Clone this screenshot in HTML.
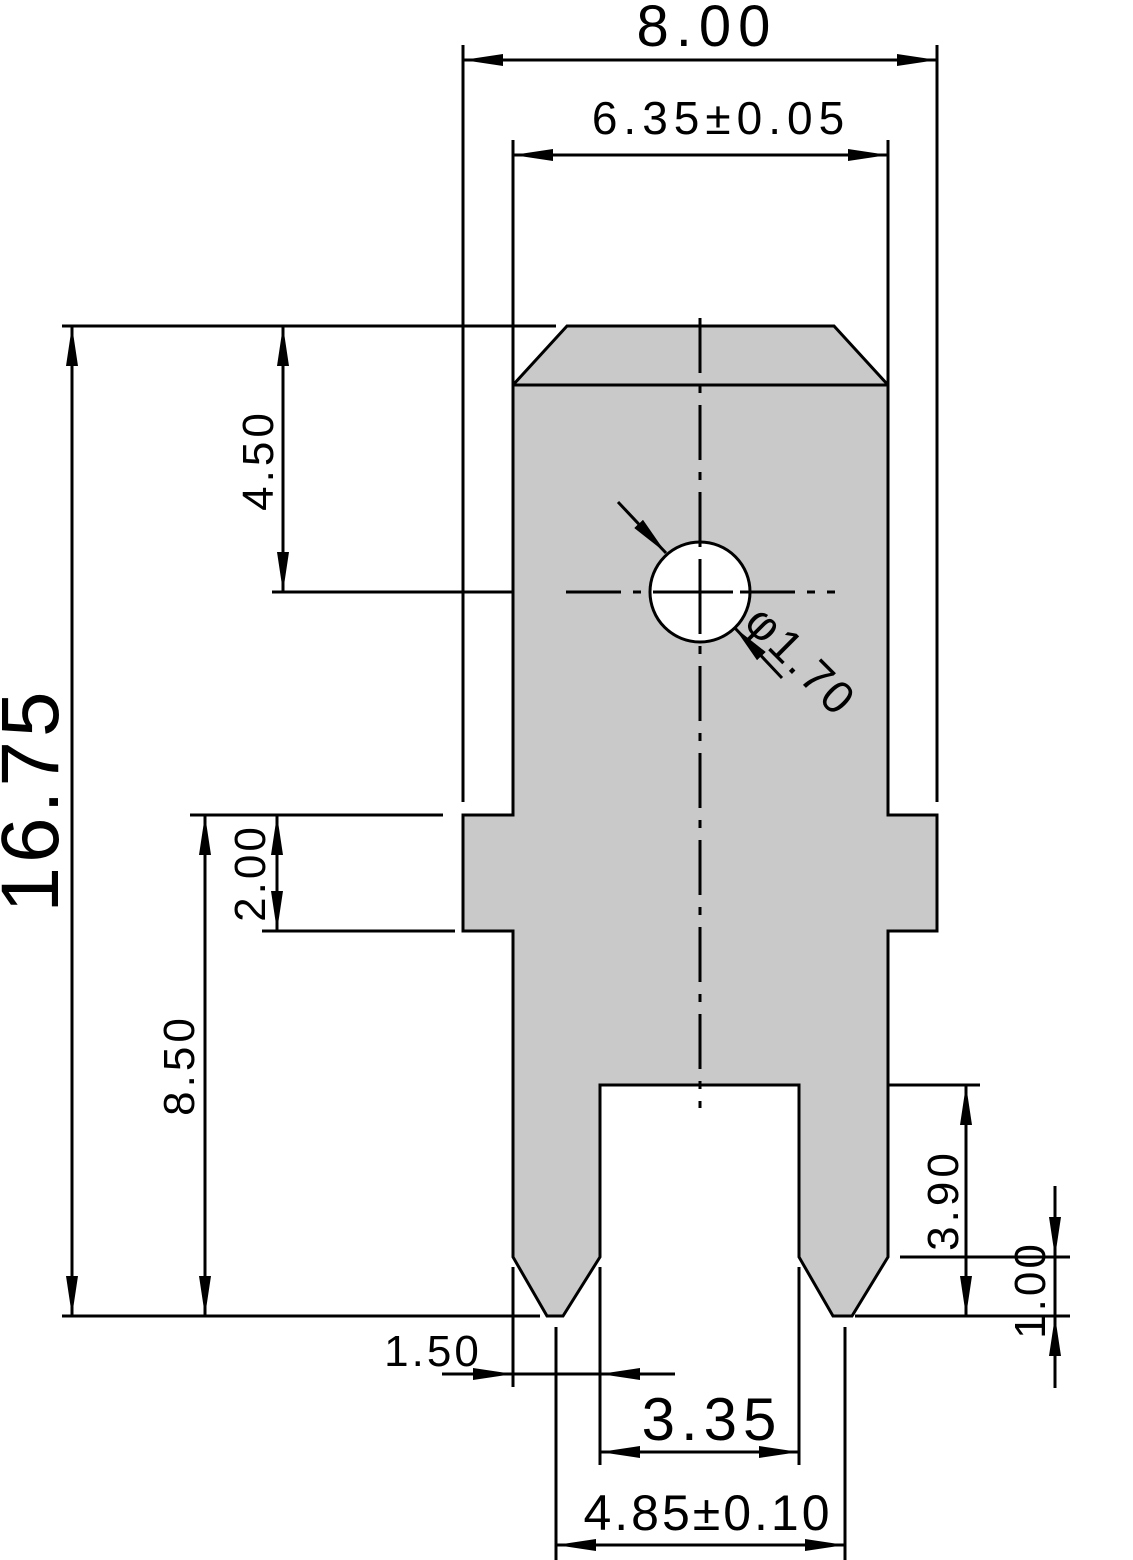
<!DOCTYPE html>
<html><head><meta charset="utf-8"><style>html,body{margin:0;padding:0;background:#fff}svg{display:block}</style></head>
<body>
<svg width="1133" height="1560" viewBox="0 0 1133 1560" xmlns="http://www.w3.org/2000/svg">
<defs>
<marker id="a" viewBox="0 0 40 12" refX="40" refY="6" markerWidth="40" markerHeight="12" markerUnits="userSpaceOnUse" orient="auto-start-reverse"><path d="M0,0 L40,6 L0,12 z" fill="#000"/></marker>
</defs>
<path d="M567,326 L834,326 L888,385 L888,815 L937,815 L937,931 L888,931 L888,1257 L852,1316 L833,1316 L799,1257 L799,1085 L600,1085 L600,1257 L563,1316 L547,1316 L513,1257 L513,931 L463,931 L463,815 L513,815 L513,385 Z" fill="#c8c9c8" stroke="#000" stroke-width="3"/>
<line x1="513" y1="385" x2="888" y2="385" stroke="#000" stroke-width="3"/>
<circle cx="700" cy="592" r="50" fill="#fff" stroke="#000" stroke-width="3"/>
<g stroke="#000" stroke-width="3" fill="none">
<line x1="700" y1="318" x2="700" y2="1108" stroke-dasharray="55,12,8,12"/>
<line x1="566" y1="592" x2="835" y2="592" stroke-dasharray="55,12,8,12"/>
<line x1="667" y1="592" x2="733" y2="592"/>
<line x1="700" y1="560" x2="700" y2="624"/>
<line x1="463" y1="45" x2="463" y2="802"/>
<line x1="937" y1="45" x2="937" y2="802"/>
<line x1="513" y1="140" x2="513" y2="395"/>
<line x1="888" y1="140" x2="888" y2="395"/>
<line x1="62" y1="326" x2="556" y2="326"/>
<line x1="62" y1="1316" x2="540" y2="1316"/>
<line x1="855" y1="1316" x2="1070" y2="1316"/>
<line x1="272" y1="592" x2="513" y2="592"/>
<line x1="190" y1="815" x2="443" y2="815"/>
<line x1="262" y1="931" x2="455" y2="931"/>
<line x1="888" y1="1085" x2="980" y2="1085"/>
<line x1="900" y1="1257" x2="1070" y2="1257"/>
<line x1="513" y1="1267" x2="513" y2="1387"/>
<line x1="600" y1="1267" x2="600" y2="1465"/>
<line x1="799" y1="1267" x2="799" y2="1465"/>
<line x1="556" y1="1327" x2="556" y2="1560"/>
<line x1="845" y1="1327" x2="845" y2="1560"/>
<line x1="463" y1="60" x2="937" y2="60" marker-start="url(#a)" marker-end="url(#a)"/>
<line x1="513" y1="155" x2="888" y2="155" marker-start="url(#a)" marker-end="url(#a)"/>
<line x1="72" y1="326" x2="72" y2="1316" marker-start="url(#a)" marker-end="url(#a)"/>
<line x1="283" y1="326" x2="283" y2="592" marker-start="url(#a)" marker-end="url(#a)"/>
<line x1="277" y1="815" x2="277" y2="931" marker-start="url(#a)" marker-end="url(#a)"/>
<line x1="205" y1="815" x2="205" y2="1316" marker-start="url(#a)" marker-end="url(#a)"/>
<line x1="966" y1="1085" x2="966" y2="1316" marker-start="url(#a)" marker-end="url(#a)"/>
<line x1="1055" y1="1186" x2="1055" y2="1257" marker-end="url(#a)"/>
<line x1="1055" y1="1388" x2="1055" y2="1316" marker-end="url(#a)"/>
<line x1="1055" y1="1257" x2="1055" y2="1316"/>
<line x1="442" y1="1374" x2="513" y2="1374" marker-end="url(#a)"/>
<line x1="675" y1="1374" x2="600" y2="1374" marker-end="url(#a)"/>
<line x1="513" y1="1374" x2="600" y2="1374"/>
<line x1="600" y1="1452" x2="799" y2="1452" marker-start="url(#a)" marker-end="url(#a)"/>
<line x1="556" y1="1545" x2="845" y2="1545" marker-start="url(#a)" marker-end="url(#a)"/>
<line x1="618" y1="502" x2="666" y2="553" marker-end="url(#a)"/>
<line x1="782" y1="678" x2="734" y2="627" marker-end="url(#a)"/>
</g>
<g font-family="Liberation Sans, sans-serif" fill="#000" text-anchor="middle">
<text x="707" y="46" font-size="58" letter-spacing="7">8.00</text>
<text x="721" y="134" font-size="46" letter-spacing="6">6.35±0.05</text>
<text x="0" y="0" font-size="82" letter-spacing="4" transform="translate(58,800) rotate(-90)">16.75</text>
<text x="0" y="0" font-size="44" letter-spacing="4" transform="translate(273,460) rotate(-90)">4.50</text>
<text x="0" y="0" font-size="44" letter-spacing="3" transform="translate(265,873) rotate(-90)">2.00</text>
<text x="0" y="0" font-size="44" letter-spacing="4" transform="translate(194,1065) rotate(-90)">8.50</text>
<text x="0" y="0" font-size="44" letter-spacing="4" transform="translate(958,1200) rotate(-90)">3.90</text>
<text x="0" y="0" font-size="44" letter-spacing="3" transform="translate(1045,1290) rotate(-90)">1.00</text>
<text x="433" y="1366" font-size="44" letter-spacing="3">1.50</text>
<text x="712" y="1440" font-size="60" letter-spacing="6">3.35</text>
<text x="708" y="1530" font-size="50" letter-spacing="3">4.85±0.10</text>
<text x="0" y="0" font-size="46" letter-spacing="3" transform="translate(790,672) rotate(45)">φ1.70</text>
</g>
</svg>
</body></html>
